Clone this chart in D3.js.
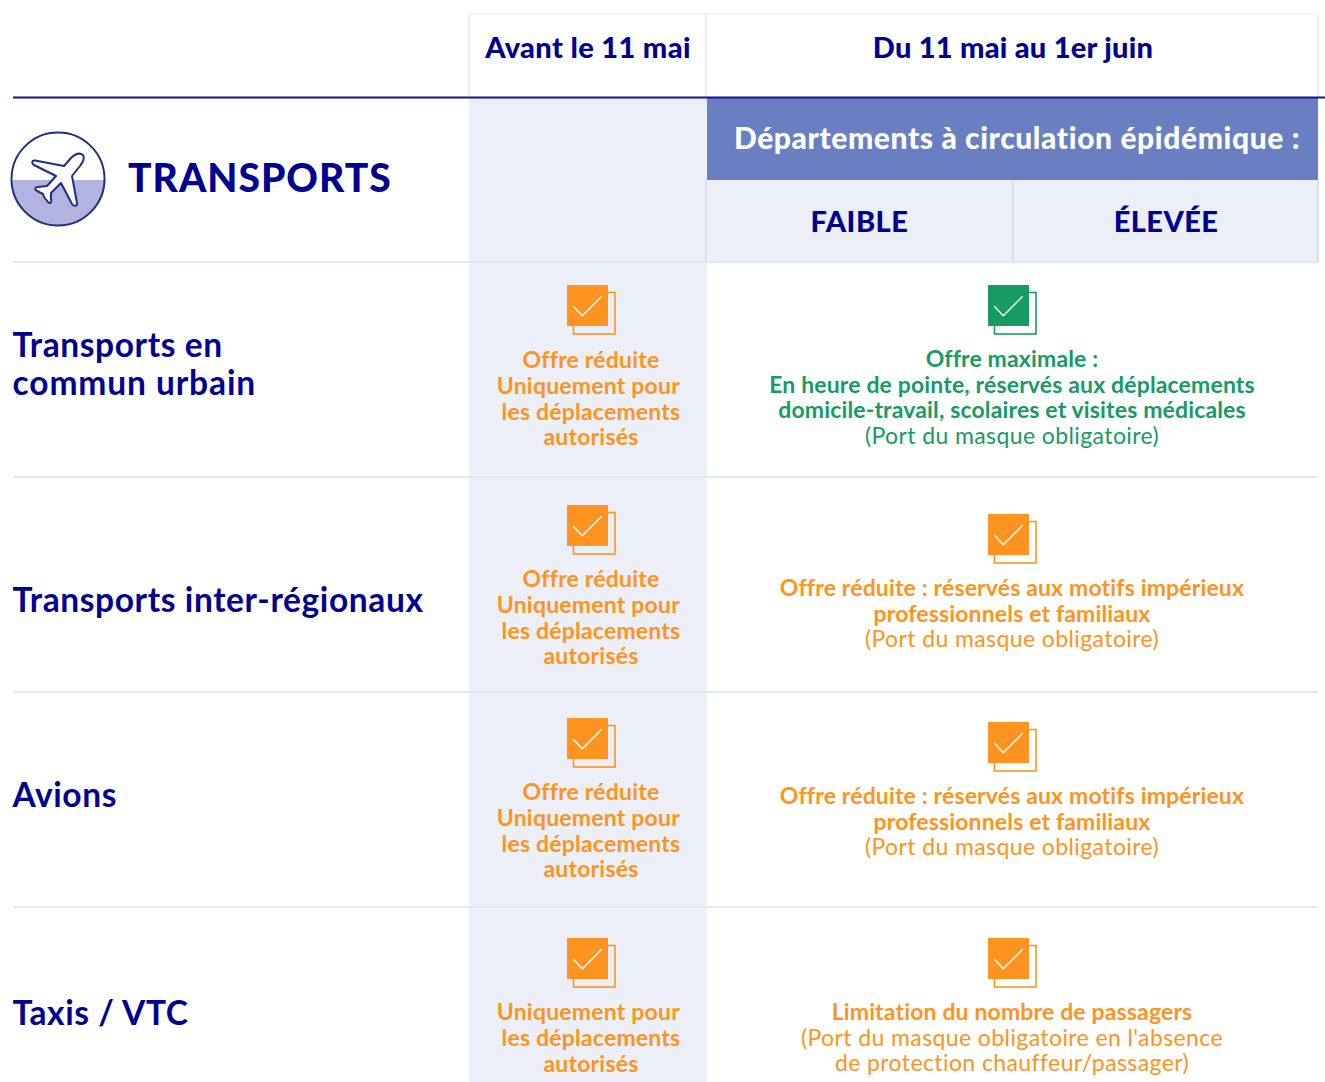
<!DOCTYPE html>
<html lang="fr">
<head>
  <meta charset="UTF-8" />
  <title>Transports</title>
  <style>
    html, body { margin:0; background:#fff; overflow:hidden; }
    svg { display:block; font-family:Lato, sans-serif; }
  </style>
</head>
<body>
  <svg id="chart" width="1325" height="1082"></svg>
  <script src="https://d3js.org/d3.v7.min.js"></script>
  <script>
  const headTitle = "TRANSPORTS";
  const periods = ["Avant le 11 mai", "Du 11 mai au 1er juin"];
  const bandTitle = "Départements à circulation épidémique :";
  const levels = ["FAIBLE", "ÉLEVÉE"];
  const rows = ["urbain", "inter", "avions", "taxis"];
  const rowLabels = [
    ["Transports en", "commun urbain"],
    ["Transports inter-régionaux"],
    ["Avions"],
    ["Taxis / VTC"]
  ];
  // the nbsp keeps the line slightly off centre, as in the original
  const avantText = [
    ["Offre réduite", "Uniquement pour\u00a0", "les déplacements", "autorisés"],
    ["Offre réduite", "Uniquement pour\u00a0", "les déplacements", "autorisés"],
    ["Offre réduite", "Uniquement pour\u00a0", "les déplacements", "autorisés"],
    ["Uniquement pour\u00a0", "les déplacements", "autorisés"]
  ];
  const apresText = [
    ["Offre maximale :", "En heure de pointe, réservés aux déplacements", "domicile-travail, scolaires et visites médicales", "(Port du masque obligatoire)"],
    ["Offre réduite : réservés aux motifs impérieux", "professionnels et familiaux", "(Port du masque obligatoire)"],
    ["Offre réduite : réservés aux motifs impérieux", "professionnels et familiaux", "(Port du masque obligatoire)"],
    ["Limitation du nombre de passagers", "(Port du masque obligatoire en l'absence", "de protection chauffeur/passager)"]
  ];
  const apresStatus = ["maximale", "reduite", "reduite", "reduite"];
  const avantStatus = ["reduite", "reduite", "reduite", "reduite"];

  const navy = "#000091", lightBg = "#eceff8", rule = "#e3e6f3", bandBlue = "#6a7fc2";
  const color = d3.scaleOrdinal().domain(["reduite", "maximale"]).range(["#ff9320", "#169b62"]);

  // row offsets, measured from the top of each row
  const leftIconDy = [23, 28, 26, 31], rightIconDy = [23, 37, 30, 31];
  const leftTextDy = [106, 110, 108, 113], rightTextDy = [105, 119, 112, 113];
  const labelDy = [94.5, 135, 115, 117.5];

  const svg = d3.select("#chart");
  const y = d3.scaleBand().domain(rows).range([262, 1122]);
  const xEdge = { left:13, avant:469, apres:706, mid:1013, right:1318 };
  const avantMid = 591, apresMid = 1012;

  // backgrounds
  svg.append("rect").attr("x", xEdge.avant).attr("y", 98).attr("width", xEdge.apres - xEdge.avant + 1).attr("height", 984).attr("fill", lightBg);
  svg.append("rect").attr("x", xEdge.apres + 1).attr("y", 98).attr("width", xEdge.right - xEdge.apres - 1).attr("height", 82).attr("fill", bandBlue);
  svg.append("rect").attr("x", xEdge.apres).attr("y", 180).attr("width", xEdge.right - xEdge.apres).attr("height", 82).attr("fill", lightBg);

  // rules
  const hline = (x1, x2, yy, col, w) => svg.append("line").attr("x1", x1).attr("x2", x2).attr("y1", yy).attr("y2", yy).attr("stroke", col).attr("stroke-width", w);
  const vline = (xx, y1, y2, col, w) => svg.append("line").attr("x1", xx).attr("x2", xx).attr("y1", y1).attr("y2", y2).attr("stroke", col).attr("stroke-width", w);
  hline(xEdge.avant, xEdge.right, 14, "#f3f1f1", 1.5);
  vline(xEdge.avant, 14, 97, rule, 1.5);
  vline(xEdge.apres, 14, 97, rule, 1.5);
  vline(xEdge.right, 14, 97, rule, 1.5);
  vline(xEdge.apres, 180, 262, "#d5d9ec", 1.5);
  vline(xEdge.mid, 180, 262, "#d5d9ec", 1.5);
  vline(xEdge.right, 180, 262, "#d5d9ec", 1.5);
  rows.forEach(r => hline(xEdge.left, xEdge.right, y(r), rule, 2));
  hline(xEdge.left, 1325, 97.5, "#14148f", 2);

  // header text
  const label = (txt, x, yy, size, weight, fill, anchor, spacing) => svg.append("text")
    .attr("x", x).attr("y", yy).attr("text-anchor", anchor || "middle")
    .attr("font-size", size).attr("font-weight", weight).attr("fill", fill)
    .attr("letter-spacing", spacing || 0).text(txt);
  label(periods[0], 588, 58, 29, 900, navy, "middle", 0.35);
  label(periods[1], 1013, 58, 29, 900, navy, "middle", 0.25);
  label(bandTitle, 1017, 149, 30, 900, "#fff", "middle", 0.6);
  label(levels[0], 859.5, 232, 29, 900, navy, "middle", 0.5);
  label(levels[1], 1166, 232, 29, 900, navy, "middle", 0.4);
  label(headTitle, 128, 192, 39, 900, navy, "start", 1);

  // plane roundel
  const icon = svg.append("g");
  svg.append("clipPath").attr("id", "lower").append("rect").attr("x", 0).attr("y", 180).attr("width", 120).attr("height", 60);
  icon.append("circle").attr("cx", 58).attr("cy", 179).attr("r", 47).attr("fill", "#fff");
  icon.append("circle").attr("cx", 58).attr("cy", 179).attr("r", 47).attr("fill", "#b3b3e0").attr("clip-path", "url(#lower)");
  icon.append("circle").attr("cx", 58).attr("cy", 179).attr("r", 46.5).attr("fill", "none").attr("stroke", "#1e2f80").attr("stroke-width", 2);
  icon.append("path")
    .attr("d", "M83,155 C79,152 74,155 71,158 L64,166 L35,160.5 C32,160 31,163 34,165 L56,176 L47,186 L38,187 C35,187 34,189 37,191 L43,194 L44,197 L48,202 C50,204 52,203 51,200 L51,193 L61,183 L72,204 C74,207 78,206 77,203 L72,176 L80,166 C83,162 85,158 83,155 Z")
    .attr("fill", "#fff").attr("stroke", "#1e2f80").attr("stroke-width", 2).attr("stroke-linejoin", "round");

  // checkbox icon, relative to its main square
  function checkbox(x, top, status) {
    const g = svg.append("g").attr("transform", `translate(${x},${top})`), c = color(status);
    g.append("rect").attr("x", 6.5).attr("y", 7.5).attr("width", 41.5).attr("height", 41.5).attr("fill", "none").attr("stroke", c).attr("stroke-width", 1.6);
    g.append("rect").attr("width", 41).attr("height", 41).attr("fill", c);
    g.append("path").attr("d", "M6.3,21.3 L15.3,30.7 L34.7,11.3").attr("fill", "none").attr("stroke", "#fff").attr("stroke-width", 1.4);
  }

  // row labels
  rows.forEach((r, i) => {
    rowLabels[i].forEach((t, k) => label(t, 12.5, y(r) + labelDy[i] + k * 38, 33.5, 700, navy, "start", t === "commun urbain" ? 0.9 : 0.6));
  });

  // cells
  rows.forEach((r, i) => {
    checkbox(567, y(r) + leftIconDy[i], avantStatus[i]);
    avantText[i].forEach((t, k) => label(t, avantMid, y(r) + leftTextDy[i] + k * 25.8, 23, 700, color(avantStatus[i]), "middle", 0.2));
    checkbox(988, y(r) + rightIconDy[i], apresStatus[i]);
    apresText[i].forEach((t, k) => {
      const regular = /\)$|^\(/.test(t);
      label(t, apresMid, y(r) + rightTextDy[i] + k * 25.6, 23, regular ? 400 : 700, color(apresStatus[i]), "middle", regular ? 0.4 : 0.15);
    });
  });
  </script>
</body>
</html>
